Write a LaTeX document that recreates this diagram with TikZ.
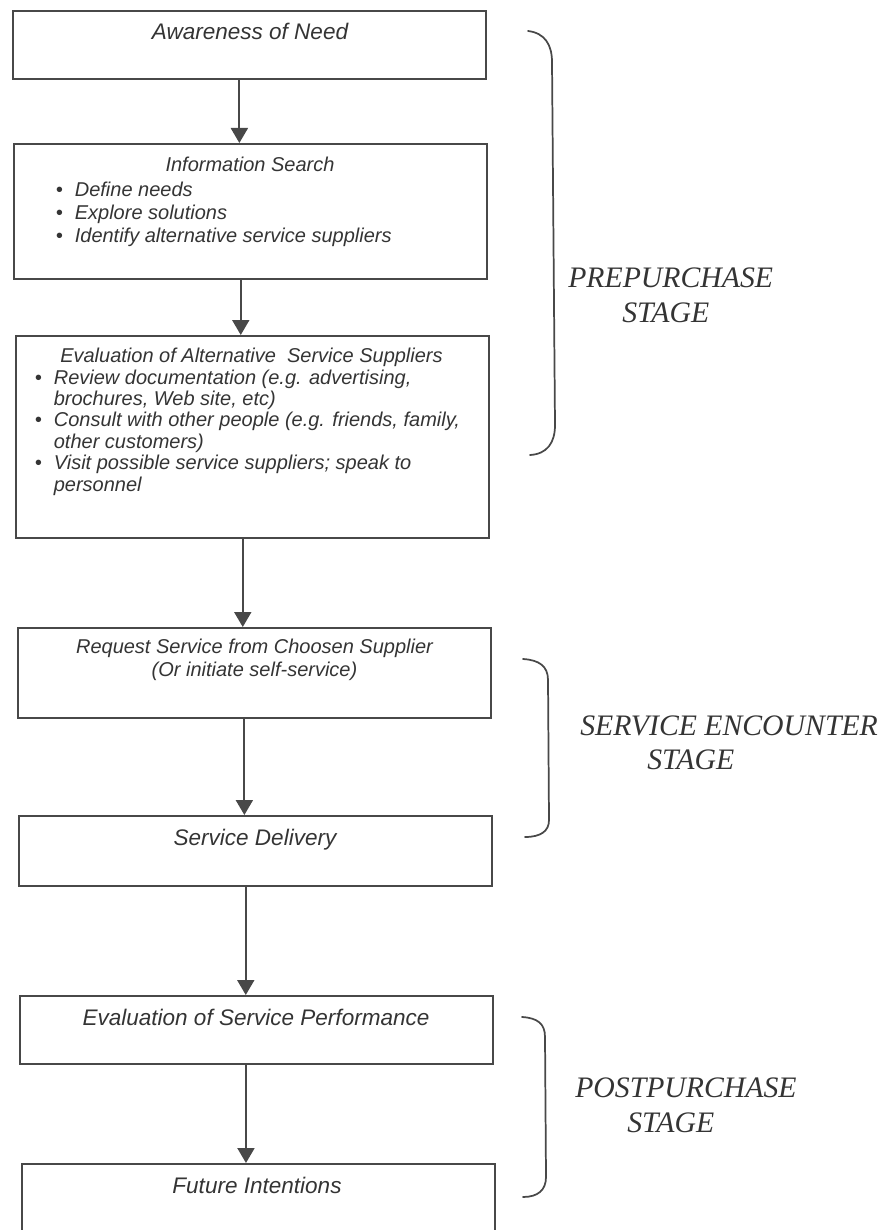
\documentclass[tikz,border=0pt]{standalone}
\usepackage{fontspec}
\newfontfamily\boxfont{Liberation Sans}
\newfontfamily\stagefont{Liberation Serif}
\usetikzlibrary{arrows.meta}
\definecolor{ink}{RGB}{72,72,72}
\definecolor{textink}{RGB}{52,52,52}
\begin{document}
\begin{tikzpicture}[x=0.75pt,y=-0.75pt,
  box/.style={draw=ink, line width=1.3pt, rectangle, anchor=north west, inner sep=0pt, minimum width=354.75pt},
  big/.style={text=textink, font=\boxfont\itshape\fontsize{16.9}{20}\selectfont, inner sep=0pt, anchor=base},
  small/.style={text=textink, font=\boxfont\itshape\fontsize{15}{17.25}\selectfont, inner sep=0pt},
  smalltight/.style={text=textink, font=\boxfont\itshape\fontsize{15}{16.1}\selectfont, inner sep=0pt},
  arr/.style={draw=ink, line width=1.5pt, -{Triangle[width=12.75pt,length=11.25pt]}},
  brace/.style={draw=ink, line width=1.3pt, line cap=round},
  stage/.style={text=textink, font=\stagefont\itshape\fontsize{22.3}{26}\selectfont, inner sep=0pt, anchor=base west}]
\useasboundingbox (0,0) rectangle (893,1230);
\clip (0,0) rectangle (893,1230);

% boxes
\node[box, minimum height=51pt]     (b1) at (12,10)   {};
\node[box, minimum height=101.25pt] (b2) at (13,143)  {};
\node[box, minimum height=151.5pt]  (b3) at (15,335)  {};
\node[box, minimum height=67.5pt]   (b4) at (17,627)  {};
\node[box, minimum height=52.5pt]   (b5) at (18,815)  {};
\node[box, minimum height=51pt]     (b6) at (19,995)  {};
\node[box, minimum height=66pt]     (b7) at (21,1163) {};

% texts
\node[big] (t1) at (250,40) {Awareness of Need};

\node[small, anchor=base] (t2) at (250,172) {Information Search};
\node[small, anchor=base west] (l2) at (55.5,197) {\begin{tabular}[t]{@{}p{14.3pt}@{}l@{}}
•&Define needs\\
•&Explore solutions\\
•&Identify alternative service suppliers
\end{tabular}};

\node[small, anchor=base] (t3) at (251.5,362) {Evaluation of Alternative\ \ Service Suppliers};
\node[smalltight, anchor=base west] (l3) at (34.5,384) {\begin{tabular}[t]{@{}p{14.3pt}@{}l@{}}
•&Review documentation (e.g. advertising,\\
&brochures, Web site, etc)\\
•&Consult with other people (e.g. friends, family,\\
&other customers)\\
•&Visit possible service suppliers; speak to\\
&personnel
\end{tabular}};

\node[small, anchor=base] (t4) at (254.5,653) {\begin{tabular}[t]{@{}c@{}}
Request Service from Choosen Supplier\\
(Or initiate self-service)
\end{tabular}};

\node[big] (t5) at (255,845) {Service Delivery};
\node[big] (t6) at (256,1025) {Evaluation of Service Performance};
\node[big] (t7) at (257,1193) {Future Intentions};

% arrows
\draw[arr] ([xshift=-7.5pt]b1.south) -- ([xshift=-7.5pt]b1.south |- b2.north);
\draw[arr] ([xshift=-7.2pt]b2.south) -- ([xshift=-7.2pt]b2.south |- b3.north);
\draw[arr] ([xshift=-7.2pt]b3.south) -- ([xshift=-7.2pt]b3.south |- b4.north);
\draw[arr] ([xshift=-7.5pt]b4.south) -- ([xshift=-7.5pt]b4.south |- b5.north);
\draw[arr] ([xshift=-7.2pt]b5.south) -- ([xshift=-7.2pt]b5.south |- b6.north);
\draw[arr] ([xshift=-7.8pt]b6.south) -- ([xshift=-7.8pt]b6.south |- b7.north);

% braces
\draw[brace] (528,31) .. controls (545,33) and (552,45) .. (552,62) -- (555,425) .. controls (555,443) and (547,454) .. (530,455);
\draw[brace] (523,659) .. controls (539,660) and (548,666) .. (548,680) -- (549,820) .. controls (549,831) and (541,837) .. (525,837);
\draw[brace] (522,1017) .. controls (538,1018) and (545,1024) .. (545,1037) -- (546,1177) .. controls (546,1190) and (538,1197) .. (523,1197);

% stage labels
\node[stage] (s1a) at (568,288)  {PREPURCHASE};
\node[stage] (s1b) at (622,322)  {STAGE};
\node[stage] (s2a) at (580,735)  {SERVICE ENCOUNTER};
\node[stage] (s2b) at (647,769)  {STAGE};
\node[stage] (s3a) at (575,1097) {POSTPURCHASE};
\node[stage] (s3b) at (627,1132) {STAGE};
\end{tikzpicture}
\end{document}
